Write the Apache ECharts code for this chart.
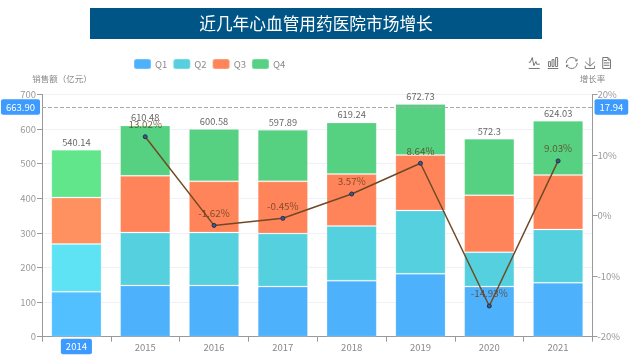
<!DOCTYPE html>
<html><head><meta charset="utf-8">
<style>html,body{margin:0;padding:0;background:#fff}#c{width:639px;height:363px}</style>
<script src="https://cdn.jsdelivr.net/npm/echarts@6/dist/echarts.min.js"></script>
</head><body><div id="c"></div>
<script>
const titleText = '近几年心血管用药医院市场增长';
const years = ['2014','2015','2016','2017','2018','2019','2020','2021'];
const q1 = [130,148,148,145,162,182,145,156];
const q2 = [138,153,153,153,158,183,99,154];
const q3 = [134,164,148,151,150,160,165,157];
const q4 = [138.14,145.48,151.58,148.89,149.24,147.73,163.3,157.03];
const totals = ['540.14','610.48','600.58','597.89','619.24','672.73','572.3','624.03'];
const growth = [null,13.02,-1.62,-0.45,3.57,8.64,-14.93,9.03];
const pointerLeft = 663.90;
const pointerRight = 17.94;

const font = '"Noto Sans CJK SC","Noto Sans",sans-serif';
const chart = echarts.init(document.getElementById('c'), null, {renderer:'canvas'});
function barSeries(name, data, color, hi, extra){
  return Object.assign({
    name, type:'bar', stack:'total', data, barWidth:'73%',
    itemStyle:{color, borderColor:'rgba(255,255,255,0.2)', borderWidth:1},
    emphasis:{focus:'none', itemStyle:{color:hi}}
  }, extra||{});
}
chart.setOption({
  animation:false,
  textStyle:{fontFamily:font},
  graphic:[{type:'rect', z:-1, shape:{x:90,y:8,width:452,height:31}, style:{fill:'#005587'}}],
  title:{text:titleText, left:311, top:10, textAlign:'center',
    textStyle:{color:'#fff', fontSize:16.7, fontWeight:'normal', fontFamily:font}},
  legend:{data:['Q1','Q2','Q3','Q4'], left:128, top:53, itemWidth:17, itemHeight:10, itemGap:5,
    itemStyle:{borderRadius:3},
    textStyle:{color:'#8a8a8a', fontSize:9.5, padding:[0,0,0,-1]}},
  toolbox:{right:11, top:40, itemSize:11, itemGap:3,
    iconStyle:{borderColor:'#777'},
    feature:{magicType:{type:['line','bar']}, restore:{}, saveAsImage:{}, dataView:{}}},
  grid:{left:42, right:46.5, top:94.5, bottom:26.3},
  xAxis:{type:'category', data:years,
    axisLine:{lineStyle:{color:'#999'}}, axisTick:{show:true,lineStyle:{color:'#999'}},
    axisLabel:{color:'#888', fontSize:9.5, margin:6},
    axisPointer:{show:true, type:'none', value:'2014', status:'show',
      label:{show:true, backgroundColor:'#3d9bff', color:'#fff', fontSize:9.5, padding:[3,5,3,5], borderRadius:2, margin:2, shadowBlur:0}}},
  yAxis:[
    {type:'value', name:'销售额（亿元）', min:0, max:700, interval:100,
     nameTextStyle:{color:'#888', fontSize:8.5, align:'center', padding:[0,0,0,40]}, nameGap:11,
     axisLine:{show:true, lineStyle:{color:'#999'}}, axisTick:{show:true, lineStyle:{color:'#999'}},
     axisLabel:{color:'#999', fontSize:9.5, margin:6},
     splitLine:{show:true, lineStyle:{color:'#eff0f8'}},
     axisPointer:{show:true, type:'line', value:pointerLeft, status:'show', snap:false,
       lineStyle:{color:'#aaa', type:'dashed', width:1},
       label:{show:true, precision:2, backgroundColor:'#3d9bff', color:'#fff', fontSize:9.5, padding:[3,5,3,5], borderRadius:2, margin:2, shadowBlur:0}}},
    {type:'value', name:'增长率', min:-20, max:20, interval:10,
     nameTextStyle:{color:'#888', fontSize:8.5}, nameGap:11,
     axisLine:{show:true, lineStyle:{color:'#999'}}, axisTick:{show:true, lineStyle:{color:'#999'}},
     axisLabel:{color:'#999', fontSize:9.5, margin:5, formatter:'{value}%'},
     splitLine:{show:false},
     axisPointer:{show:true, type:'none', value:pointerRight, status:'show', snap:false,
       label:{show:true, precision:2, backgroundColor:'#3d9bff', color:'#fff', fontSize:9.5, padding:[3,5,3,5], borderRadius:2, margin:2, shadowBlur:0}}}
  ],
  series:[
    barSeries('Q1', q1, '#4db1fb', '#52c0ff'),
    barSeries('Q2', q2, '#55d0de', '#5ee3f5'),
    barSeries('Q3', q3, '#ff845a', '#ff9060'),
    barSeries('Q4', q4, '#56d081', '#62e68c', {
      label:{show:true, position:'top', distance:3, color:'#666', fontSize:9.3,
        formatter:p=>totals[p.dataIndex]}
    }),
    {name:'增长率', type:'line', yAxisIndex:1, data:growth, z:5,
     symbol:'circle', symbolSize:4, showAllSymbols:true, connectNulls:false,
     lineStyle:{color:'#704a25', width:1.5},
     itemStyle:{color:'#3f5a8a', borderColor:'#1f2f4a', borderWidth:1},
     label:{show:true, position:'top', distance:5, color:'rgba(100,60,30,0.8)', fontSize:9.8,
       formatter:p=>p.value==null?'':p.value.toFixed(2)+'%'}
    }
  ]
});
chart.dispatchAction({type:'highlight', seriesIndex:[0,1,2,3], dataIndex:0});
</script></body></html>
